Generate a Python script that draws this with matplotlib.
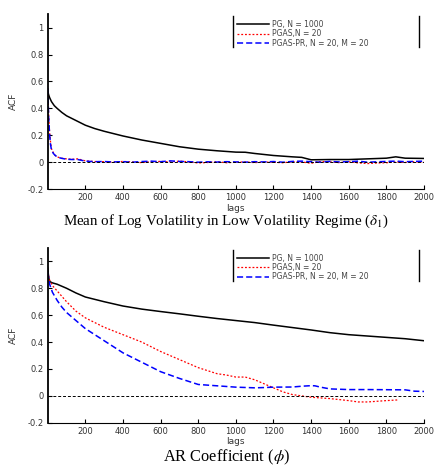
import matplotlib
matplotlib.use("Agg")
import matplotlib.pyplot as plt

plt.rcParams["mathtext.fontset"] = "stix"

# ---- top panel: mean of log volatility, low regime (delta_1) ----
pg_top_lags = [0, 5, 10, 20, 35, 50, 75, 100, 150, 200, 250, 300, 400, 500, 600, 700,
               800, 900, 1000, 1050, 1100, 1200, 1300, 1350, 1400, 1500, 1600, 1700,
               1800, 1850, 1900, 2000]
pg_top_acf = [0.53, 0.50, 0.48, 0.45, 0.42, 0.40, 0.37, 0.345, 0.31, 0.275, 0.25, 0.23,
              0.195, 0.165, 0.14, 0.115, 0.097, 0.085, 0.075, 0.074, 0.065, 0.05, 0.04,
              0.036, 0.018, 0.02, 0.02, 0.025, 0.03, 0.04, 0.03, 0.028]

pgas_top_lags = [0, 5, 10, 15, 20, 30, 40, 50, 70, 100, 130, 160, 200, 250, 300, 350,
                 400, 450, 500, 550, 600, 650, 700, 750, 800, 850, 900, 950, 1000, 1050,
                 1100, 1150, 1200, 1250, 1300, 1350, 1400, 1450, 1500, 1550, 1600, 1650,
                 1700, 1750, 1800, 1850, 1900, 1950, 2000]
pgas_top_acf = [0.55, 0.35, 0.22, 0.15, 0.10, 0.07, 0.05, 0.04, 0.03, 0.025, 0.022, 0.025,
                0.01, 0.005, 0.004, 0.0, 0.006, 0.002, -0.003, 0.004, 0.006, 0.002, 0.008,
                0.003, -0.006, -0.002, 0.003, -0.004, 0.0, 0.002, -0.003, 0.001, 0.0,
                -0.004, 0.003, 0.002, -0.008, 0.005, 0.002, -0.003, 0.003, -0.005, -0.01,
                -0.006, -0.004, 0.002, -0.002, 0.004, 0.0]

pr_top_lags = [0, 5, 10, 15, 20, 30, 40, 50, 70, 100, 130, 160, 200, 250, 300, 350,
               400, 450, 500, 550, 600, 650, 700, 750, 800, 850, 900, 950, 1000, 1050,
               1100, 1150, 1200, 1250, 1300, 1350, 1400, 1450, 1500, 1550, 1600, 1650,
               1700, 1750, 1800, 1850, 1900, 1950, 2000]
pr_top_acf = [0.55, 0.33, 0.20, 0.13, 0.09, 0.065, 0.05, 0.04, 0.03, 0.022, 0.02, 0.02,
              0.008, 0.004, 0.005, 0.002, 0.004, 0.0, 0.005, 0.008, 0.004, 0.01, 0.006,
              0.004, 0.0, 0.003, 0.001, 0.004, 0.002, 0.0, 0.004, 0.002, 0.005, 0.0,
              0.006, 0.008, 0.004, 0.0, 0.006, 0.002, 0.004, 0.008, 0.0, 0.003, 0.006,
              0.008, 0.004, 0.006, 0.008]

# ---- bottom panel: AR coefficient (phi) ----
pg_bot_lags = [0, 5, 10, 25, 50, 100, 150, 200, 300, 400, 500, 600, 700, 800, 900, 1000,
               1100, 1200, 1300, 1400, 1500, 1600, 1700, 1800, 1900, 2000]
pg_bot_acf = [0.95, 0.88, 0.85, 0.84, 0.83, 0.80, 0.765, 0.735, 0.70, 0.668, 0.645, 0.627,
              0.61, 0.592, 0.575, 0.56, 0.545, 0.526, 0.508, 0.49, 0.47, 0.455, 0.445,
              0.435, 0.425, 0.41]

pgas_bot_lags = [0, 10, 25, 50, 100, 150, 200, 300, 400, 500, 600, 700, 800, 900, 950,
                 1000, 1050, 1100, 1150, 1200, 1250, 1300, 1350, 1400, 1500, 1600, 1650,
                 1700, 1750, 1800, 1860]
pgas_bot_acf = [0.92, 0.86, 0.82, 0.78, 0.70, 0.63, 0.58, 0.51, 0.455, 0.40, 0.33, 0.27,
                0.21, 0.165, 0.155, 0.14, 0.14, 0.12, 0.09, 0.06, 0.03, 0.01, 0.0, -0.01,
                -0.02, -0.035, -0.045, -0.045, -0.04, -0.035, -0.03]

pr_bot_lags = [0, 10, 25, 50, 75, 100, 150, 200, 300, 400, 500, 600, 700, 800, 900, 1000,
               1100, 1150, 1200, 1300, 1350, 1400, 1420, 1450, 1500, 1600, 1700, 1800,
               1900, 1950, 2000]
pr_bot_acf = [0.92, 0.83, 0.77, 0.71, 0.66, 0.62, 0.56, 0.50, 0.41, 0.32, 0.25, 0.18,
              0.13, 0.085, 0.075, 0.065, 0.06, 0.062, 0.065, 0.066, 0.072, 0.076, 0.075,
              0.065, 0.052, 0.047, 0.047, 0.046, 0.045, 0.035, 0.033]

legend_labels = ["PG, N = 1000", "PGAS,N = 20", "PGAS-PR, N = 20, M = 20"]
xticks = [200, 400, 600, 800, 1000, 1200, 1400, 1600, 1800, 2000]
yticks = [-0.2, 0, 0.2, 0.4, 0.6, 0.8, 1]
ytick_labels = ["-0.2", "0", "0.2", "0.4", "0.6", "0.8", "1"]


def draw_panel(ax, pg, pgas, pr, title, title_y, title_size):
    ax.plot(pg[0], pg[1], color="black", lw=1.1, label=legend_labels[0])
    ax.plot(pgas[0], pgas[1], color="red", lw=0.9, ls=(0, (1.5, 1.5)), label=legend_labels[1])
    ax.plot(pr[0], pr[1], color="blue", lw=1.1, ls=(0, (4, 2)), label=legend_labels[2])
    ax.axhline(0, color="black", lw=0.7, ls=(0, (3, 2)))

    ax.set_xlim(0, 2000)
    ax.set_ylim(-0.2, 1.1)
    ax.set_xticks(xticks)
    ax.set_yticks(yticks)
    ax.set_yticklabels(ytick_labels)
    ax.tick_params(direction="in", length=3, labelsize=6, labelcolor="#333333", pad=3)
    ax.spines["top"].set_visible(False)
    ax.spines["right"].set_visible(False)
    ax.spines["left"].set_linewidth(1.3)
    ax.spines["bottom"].set_linewidth(0.8)
    ax.set_xlabel("lags", fontsize=6.5, color="#333333", labelpad=1)
    ax.set_ylabel("ACF", fontsize=6.5, color="#333333", labelpad=7)

    leg = ax.legend(loc="upper left", bbox_to_anchor=(0.495, 0.985), frameon=False,
                    fontsize=5.5, handlelength=4.2, handletextpad=0.4,
                    labelspacing=0.05, borderaxespad=0)
    for t in leg.get_texts():
        t.set_color("#444444")
    for x in (0.492, 0.987):
        ax.plot([x, x], [0.81, 0.99], color="black", lw=1.0,
                transform=ax.transAxes, clip_on=False)

    ax.text(0.474, title_y, title, transform=ax.transAxes, ha="center", va="center",
            fontsize=title_size, family="Liberation Serif")


fig = plt.figure(figsize=(4.38, 4.74), dpi=100)
ax1 = fig.add_axes([0.109, 0.601, 0.859, 0.369])
ax2 = fig.add_axes([0.109, 0.108, 0.859, 0.369])

draw_panel(ax1, (pg_top_lags, pg_top_acf), (pgas_top_lags, pgas_top_acf),
           (pr_top_lags, pr_top_acf),
           r"Mean of Log Volatility in Low Volatility Regime ($\delta_1$)", -0.185, 10.8)
draw_panel(ax2, (pg_bot_lags, pg_bot_acf), (pgas_bot_lags, pgas_bot_acf),
           (pr_bot_lags, pr_bot_acf), r"AR Coefficient ($\phi$)", -0.2, 11.8)

fig.savefig("out.png", dpi=100)
